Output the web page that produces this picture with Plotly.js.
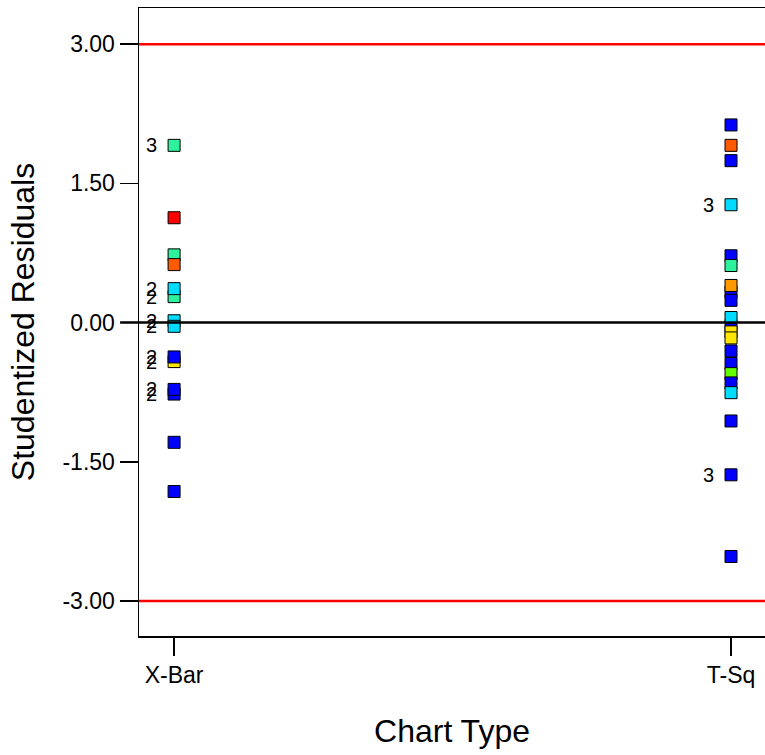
<!DOCTYPE html>
<html>
<head>
<meta charset="utf-8">
<script src="https://cdn.plot.ly/plotly-3.0.1.min.js"></script>
<style>html,body{margin:0;padding:0;background:#fff;}#chart{width:765px;height:755px;}</style>
</head>
<body>
<div id="chart"></div>
<script>
// Chart type categories
const categories = ["X-Bar", "T-Sq"];

// X-Bar residuals (draw order), colours and count labels
const xbarValues = [1.91, 1.13, 0.73, 0.625, 0.28, 0.366, 0.02, -0.04, -0.42, -0.37, -0.77, -0.72, -1.29, -1.82];
const xbarColors = ["#2df29b", "#ff0000", "#2df29b", "#ff5a00", "#2df29b", "#00dcff", "#00dcff", "#00dcff", "#ffe600", "#0000ff", "#0000ff", "#0000ff", "#0000ff", "#0000ff"];
const xbarLabels = ["3", "", "", "", "2", "2", "2", "2", "2", "2", "2", "2", "", ""];

// T-Sq residuals (draw order), colours and count labels
const tsqValues = [2.13, 1.91, 1.745, 1.27, 0.72, 0.615, 0.33, 0.40, 0.24, -0.03, 0.055, -0.1, -0.165, -0.305, -0.44, -0.55, -0.65, -0.755, -1.06, -1.64, -2.52];
const tsqColors = ["#0000ff", "#ff5a00", "#0000ff", "#00dcff", "#0000ff", "#2df29b", "#0000ff", "#ff9900", "#0000ff", "#0000ff", "#00dcff", "#ffe600", "#ffe600", "#0000ff", "#0000ff", "#66ff00", "#0000ff", "#00dcff", "#0000ff", "#0000ff", "#0000ff"];
const tsqLabels = ["", "", "", "3", "", "", "", "", "", "", "", "", "", "", "", "", "", "", "", "3", ""];

// Reference lines
const limitValues = [3, -3];
const centerValue = 0;

const yTickVals = [3, 1.5, 0, -1.5, -3];
const yTickText = ["3.00", "1.50", "0.00", "-1.50", "-3.00"];

const FONT = "Liberation Sans, Arial, sans-serif";

function makeTrace(cat, vals, cols) {
  return {
    type: "scatter",
    mode: "markers",
    x: vals.map(() => cat),
    y: vals,
    marker: {symbol: "square", size: 12, color: cols, line: {color: "#000", width: 1}},
    cliponaxis: false,
    hoverinfo: "y",
    showlegend: false
  };
}

const traces = [
  makeTrace(categories[0], xbarValues, xbarColors),
  makeTrace(categories[1], tsqValues, tsqColors)
];

const annotations = [];
function addLabels(cat, vals, labels) {
  vals.forEach((v, i) => {
    if (labels[i]) {
      annotations.push({
        x: cat, y: v, xref: "x", yref: "y", text: labels[i],
        showarrow: false, xanchor: "right", yanchor: "middle", xshift: -15,
        font: {family: FONT, size: 20, color: "#000"}
      });
    }
  });
}
addLabels(categories[0], xbarValues, xbarLabels);
addLabels(categories[1], tsqValues, tsqLabels);

const shapes = limitValues.map(v => ({
  type: "line", xref: "paper", x0: 0, x1: 1, yref: "y", y0: v, y1: v,
  line: {color: "#ff0000", width: 2.5}, layer: "above"
}));
shapes.push({
  type: "line", xref: "paper", x0: -0.03, x1: 1, yref: "y", y0: centerValue, y1: centerValue,
  line: {color: "#000", width: 2.5}, layer: "above"
});

const layout = {
  width: 765, height: 755,
  margin: {l: 139, r: 0, t: 8, b: 119},
  paper_bgcolor: "#fff", plot_bgcolor: "#fff",
  font: {family: FONT, color: "#000"},
  showlegend: false,
  xaxis: {
    type: "category",
    categoryorder: "array", categoryarray: categories,
    range: [-0.063, 1.061],
    showgrid: false, zeroline: false,
    showline: true, linecolor: "#000", linewidth: 1.5, mirror: true,
    ticks: "outside", ticklen: 18, tickwidth: 1.5, tickcolor: "#000",
    tickfont: {size: 23},
    title: {text: "Chart Type", font: {size: 32}, standoff: 32}
  },
  yaxis: {
    range: [-3.377, 3.39],
    tickmode: "array", tickvals: yTickVals, ticktext: yTickText,
    showgrid: false, zeroline: false,
    showline: true, linecolor: "#000", linewidth: 1.5,
    ticks: "outside", ticklen: 18, tickwidth: 1.5, tickcolor: "#000",
    tickfont: {size: 23},
    title: {text: "Studentized Residuals", font: {size: 32}, standoff: 18}
  },
  annotations: annotations,
  shapes: shapes
};

Plotly.newPlot("chart", traces, layout, {displayModeBar: false, staticPlot: true});
</script>
</body>
</html>
